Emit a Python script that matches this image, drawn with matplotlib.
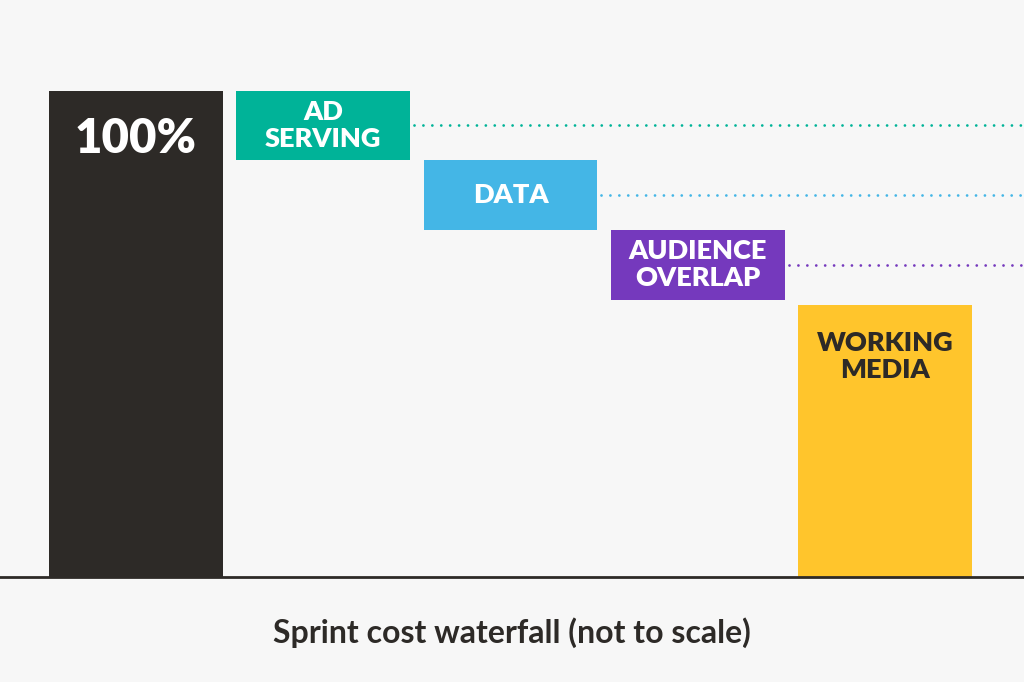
import matplotlib
matplotlib.use("Agg")
import matplotlib.pyplot as plt

categories = ["100%", "AD\nSERVING", "DATA", "AUDIENCE\nOVERLAP", "WORKING\nMEDIA"]
total = 100.0
deductions = [14.2, 14.4, 14.4]
working_media = 56.0
colors = ["#2d2a27", "#00b398", "#44b6e6", "#7539bd", "#ffc52c"]
text_colors = ["white", "white", "white", "white", "#2d2a27"]
title = "Sprint cost waterfall (not to scale)"

BG = "#f7f7f7"
plt.rcParams['font.family'] = ['Lato', 'DejaVu Sans']

fig = plt.figure(figsize=(10.24, 6.82), dpi=100, facecolor=BG)
ax = fig.add_axes([0, 0.154, 1, 0.846])
ax.set_facecolor(BG)
ax.set_xlim(-0.726, 4.742)
ax.set_ylim(0, 118.7)
ax.axis("off")

width = 0.929
# bar bottoms and heights
bottoms = [0.0]
heights = [total]
level = total
for d in deductions:
    bottoms.append(level - d)
    heights.append(d)
    level -= d
bottoms.append(0.0)
heights.append(working_media)

for i, (b, h, c) in enumerate(zip(bottoms, heights, colors)):
    ax.bar(i, h, bottom=b, width=width, color=c, edgecolor="none", zorder=2)

# dotted connector lines from the deduction boxes
for i in range(1, 4):
    yc = bottoms[i] + heights[i] / 2
    ax.plot([i + width / 2 + 0.02, 4.742], [yc, yc], color=colors[i], lw=2.0,
            dashes=[0.01, 3.2], dash_capstyle="round", zorder=1, clip_on=False)

# labels
ax.text(0, total - 9.8, categories[0], ha="center", va="center", color=text_colors[0],
        fontsize=34, fontweight="heavy")
for i in range(1, 4):
    yc = bottoms[i] + heights[i] / 2
    ax.text(i, yc, categories[i], ha="center", va="center", color=text_colors[i],
            fontsize=19.5, fontweight="heavy", linespacing=1.15)
ax.text(4, working_media - 10.6, categories[4], ha="center", va="center",
        color=text_colors[4], fontsize=19.5, fontweight="heavy", linespacing=1.15)

# baseline
ax.axhline(0, color="#2d2a27", lw=2.0, zorder=3, clip_on=False)

fig.text(0.5, 0.073, title, ha="center", va="center", color="#2d2a27",
         fontsize=23, fontweight="bold")

fig.savefig("out.png", dpi=100, facecolor=BG)
